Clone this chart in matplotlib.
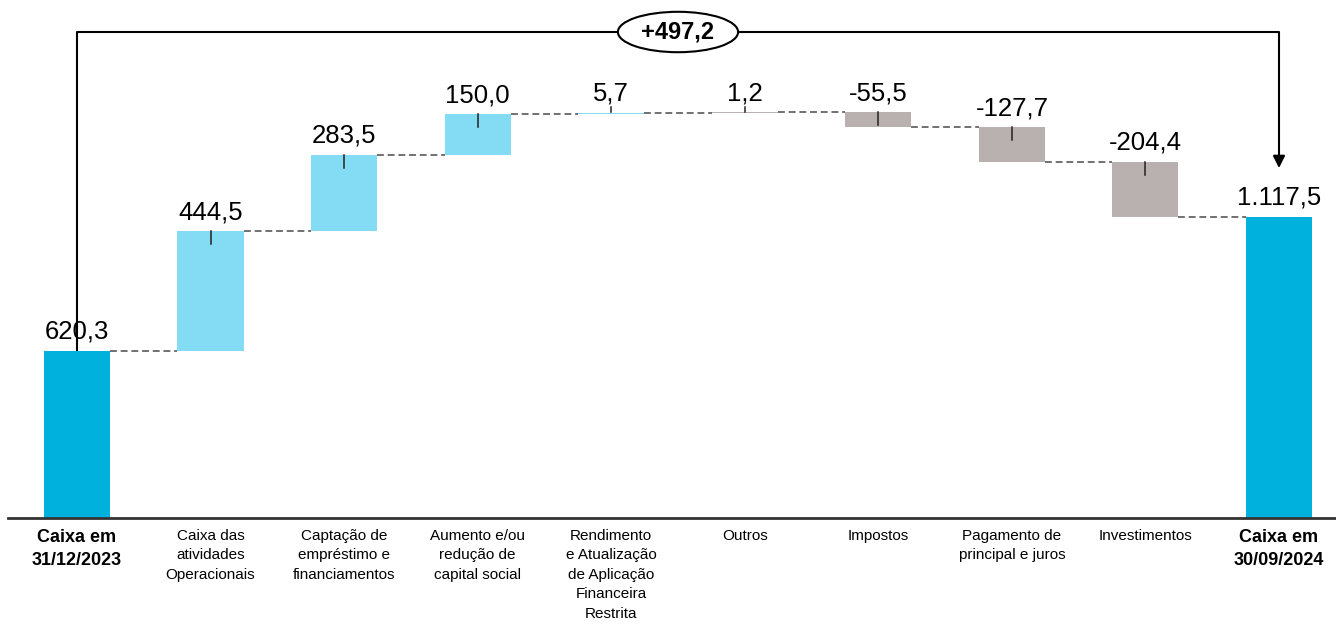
import numpy as np
import matplotlib.pyplot as plt
from matplotlib.patches import Ellipse

categories = ['Caixa em\n31/12/2023', 'Caixa das\natividades\nOperacionais',
              'Captação de\nempréstimo e\nfinanciamentos', 'Aumento e/ou\nredução de\ncapital social',
              'Rendimento\ne Atualização\nde Aplicação\nFinanceira\nRestrita', 'Outros', 'Impostos',
              'Pagamento de\nprincipal e juros', 'Investimentos', 'Caixa em\n30/09/2024']
values = [620.3, 444.5, 283.5, 150.0, 5.7, 1.2, -55.5, -127.7, -204.4, 1117.5]
is_total = [True, False, False, False, False, False, False, False, False, True]
kind = ['total', 'pos', 'pos', 'pos', 'pos', 'neg', 'neg', 'neg', 'neg', 'total']

palette = {'total': '#00B0DD', 'pos': '#84DBF4', 'neg': '#B9B1AF'}
narrow = ['Liberation Sans Narrow', 'Liberation Sans', 'DejaVu Sans']
plt.rcParams['font.family'] = ['Liberation Sans', 'DejaVu Sans']


def fmt(v):
    s = f'{v:,.1f}'
    return s.replace(',', 'X').replace('.', ',').replace('X', '.')


fig = plt.figure(figsize=(13.36, 6.24), dpi=100)
ax = fig.add_axes([0, 0, 1, 1])
ax.set_xlim(-0.5765, 9.4268)
ax.set_ylim(-393.5, 1922.8)
ax.axis('off')

w = 0.495
x = np.arange(len(values))
bottoms, tops = [], []
run = 0.0
for i, v in enumerate(values):
    if is_total[i]:
        b, t = 0, v
        run = v
    else:
        b, t = (run, run + v) if v >= 0 else (run + v, run)
        run += v
    bottoms.append(b)
    tops.append(t)

colors = [palette[k] for k in kind]
ax.bar(x, np.array(tops) - np.array(bottoms), bottom=bottoms, width=w, color=colors, zorder=2)

# dashed connectors
level = [tops[0]]
run = values[0]
for i in range(1, len(values) - 1):
    run += values[i]
    level.append(run)
for i in range(len(values) - 1):
    ax.plot([x[i] + w / 2, x[i + 1] - w / 2], [level[i], level[i]], ls=(0, (4.5, 2.5)),
            color='#4a4a4a', lw=1.1, zorder=1)

# value labels and small ticks
for i, v in enumerate(values):
    ax.annotate(fmt(v), (x[i], tops[i]), xytext=(0, 5), textcoords='offset points',
                ha='center', va='bottom', fontsize=18.5, color='black')
    if not is_total[i]:
        h = tops[i] - bottoms[i]
        ln = min(48, max(h, 18))
        ax.plot([x[i], x[i]], [tops[i] + (0 if h > 18 else 20), tops[i] - ln + (0 if h > 18 else 20)],
                color='#222222', lw=1.1, zorder=3)

# baseline
ax.plot([-0.52, 9.43], [0, 0], color='#333333', lw=2, zorder=3)

# category labels
for i, c in enumerate(categories):
    if is_total[i]:
        ax.text(x[i], -40, c, ha='center', va='top', fontsize=13, fontweight='bold',
                family=narrow, linespacing=1.45)
    else:
        ax.text(x[i], -40, c, ha='center', va='top', fontsize=11, family=narrow, linespacing=1.5)

# bracket with total change
top_y = 1804
ax.plot([x[0], x[0], x[-1], x[-1]], [tops[0], top_y, top_y, 1330], color='black', lw=1.5, zorder=1)
ax.annotate('', xy=(x[-1], 1299), xytext=(x[-1], 1345),
            arrowprops=dict(arrowstyle='-|>', color='black', lw=1.5, mutation_scale=18,
                            shrinkA=0, shrinkB=0))
mid = (x[0] + x[-1]) / 2
ax.add_patch(Ellipse((mid, top_y), 0.9, 150, facecolor='white', edgecolor='black', lw=1.5, zorder=4))
delta = values[-1] - values[0]
ax.text(mid, top_y, '+' + fmt(delta), ha='center', va='center', fontsize=17, fontweight='bold', zorder=5)

fig.savefig('out.png', dpi=100)
